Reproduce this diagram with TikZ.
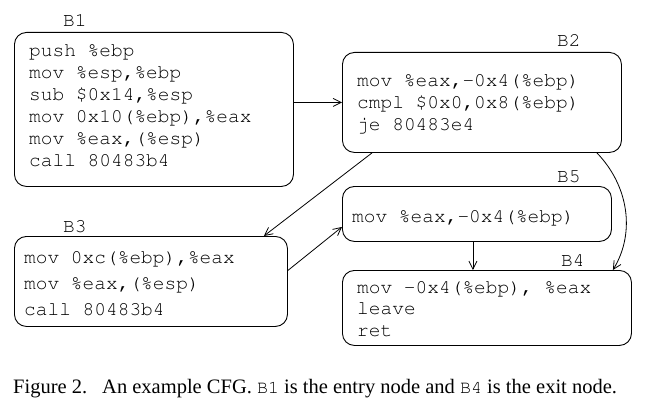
\documentclass[tikz,border=0pt]{standalone}
\usepackage{fontspec}
\setmainfont{Liberation Serif}
\newcommand{\codefont}{\fontencoding{T1}\fontfamily{pcr}\fontseries{m}\fontshape{n}\selectfont}
\usetikzlibrary{arrows.meta}
\newcommand{\codeblock}[2]{\vtop{\codefont\fontsize{19.5}{#1}\selectfont\baselineskip=#1pt\lineskiplimit=-100pt\lineskip=0pt #2}}
\newcommand{\asmrow}[1]{\hbox{#1}}
\tikzset{
  x=1pt, y=-1pt,
  box/.style={draw, line width=0.9pt, rounded corners=12pt, inner sep=0pt, anchor=north west},
  code/.style={inner sep=0pt, anchor=base west},
  blabel/.style={inner sep=0pt, anchor=base west, font=\codefont\fontsize{19.5}{22}\selectfont},
  flow/.style={line width=0.8pt, -{Straight Barb[length=8pt,width=8pt,line width=0.8pt]}},
}
\begin{document}
\begin{tikzpicture}
\useasboundingbox (0,0) rectangle (652,417);
% boxes
\node[box, minimum width=279pt, minimum height=154pt] (B1) at (14,32) {};
\node[box, minimum width=279pt, minimum height=100pt] (B2) at (342,52) {};
\node[box, minimum width=269pt, minimum height=55pt] (B5) at (342,186) {};
\node[box, minimum width=273pt, minimum height=90pt] (B3) at (14,236) {};
\node[box, minimum width=289pt, minimum height=75pt] (B4) at (342,270) {};
% labels
\node[blabel] (L1) at (63,27) {B1};
\node[blabel] (L2) at (557,47) {B2};
\node[blabel] (L5) at (557,182) {B5};
\node[blabel] (L3) at (63,232) {B3};
\node[blabel] (L4) at (561,266) {B4};
% code
\node[code] (T1) at (29,57) {\codeblock{22}{\asmrow{push \%ebp}\asmrow{mov \%esp,\%ebp}\asmrow{sub \$0x14,\%esp}\asmrow{mov 0x10(\%ebp),\%eax}\asmrow{mov \%eax,(\%esp)}\asmrow{call 80483b4}}};
\node[code] (T2) at (357,87) {\codeblock{21.7}{\asmrow{mov \%eax,-0x4(\%ebp)}\asmrow{cmpl \$0x0,0x8(\%ebp)}\asmrow{je 80483e4}}};
\node[code] (T3) at (24,263) {\codeblock{26}{\asmrow{mov 0xc(\%ebp),\%eax}\asmrow{mov \%eax,(\%esp)}\asmrow{call 80483b4}}};
\node[code] (T5) at (352,222) {\codeblock{22}{\asmrow{mov \%eax,-0x4(\%ebp)}}};
\node[code] (T4) at (357,293) {\codeblock{21.5}{\asmrow{mov -0x4(\%ebp), \%eax}\asmrow{leave}\asmrow{ret}}};
% edges
\draw[flow] (B1.east |- B2.west) -- (B2.west);
\draw[flow] ([xshift=30pt]B2.south west) -- ([xshift=-24pt]B3.north east);
\draw[flow] ([yshift=11pt]B3.east) -- ([yshift=-13pt]B5.west);
\draw[flow] ([xshift=-4pt]B5.south) -- ([xshift=-4pt]B5.south |- B4.north);
\draw[flow] ([xshift=-25pt]B2.south east) .. controls (628,185) and (636,232) .. ([xshift=-19pt]B4.north east);
% caption
\node[inner sep=0pt, anchor=base west, font=\fontsize{20.5}{24}\selectfont] (cap) at (13,393) {Figure 2.\hspace{15pt}An example CFG. {\codefont\fontsize{18.3}{22}\selectfont B1} is the entry node and {\codefont\fontsize{18.3}{22}\selectfont B4} is the exit node.};
\end{tikzpicture}
\end{document}
